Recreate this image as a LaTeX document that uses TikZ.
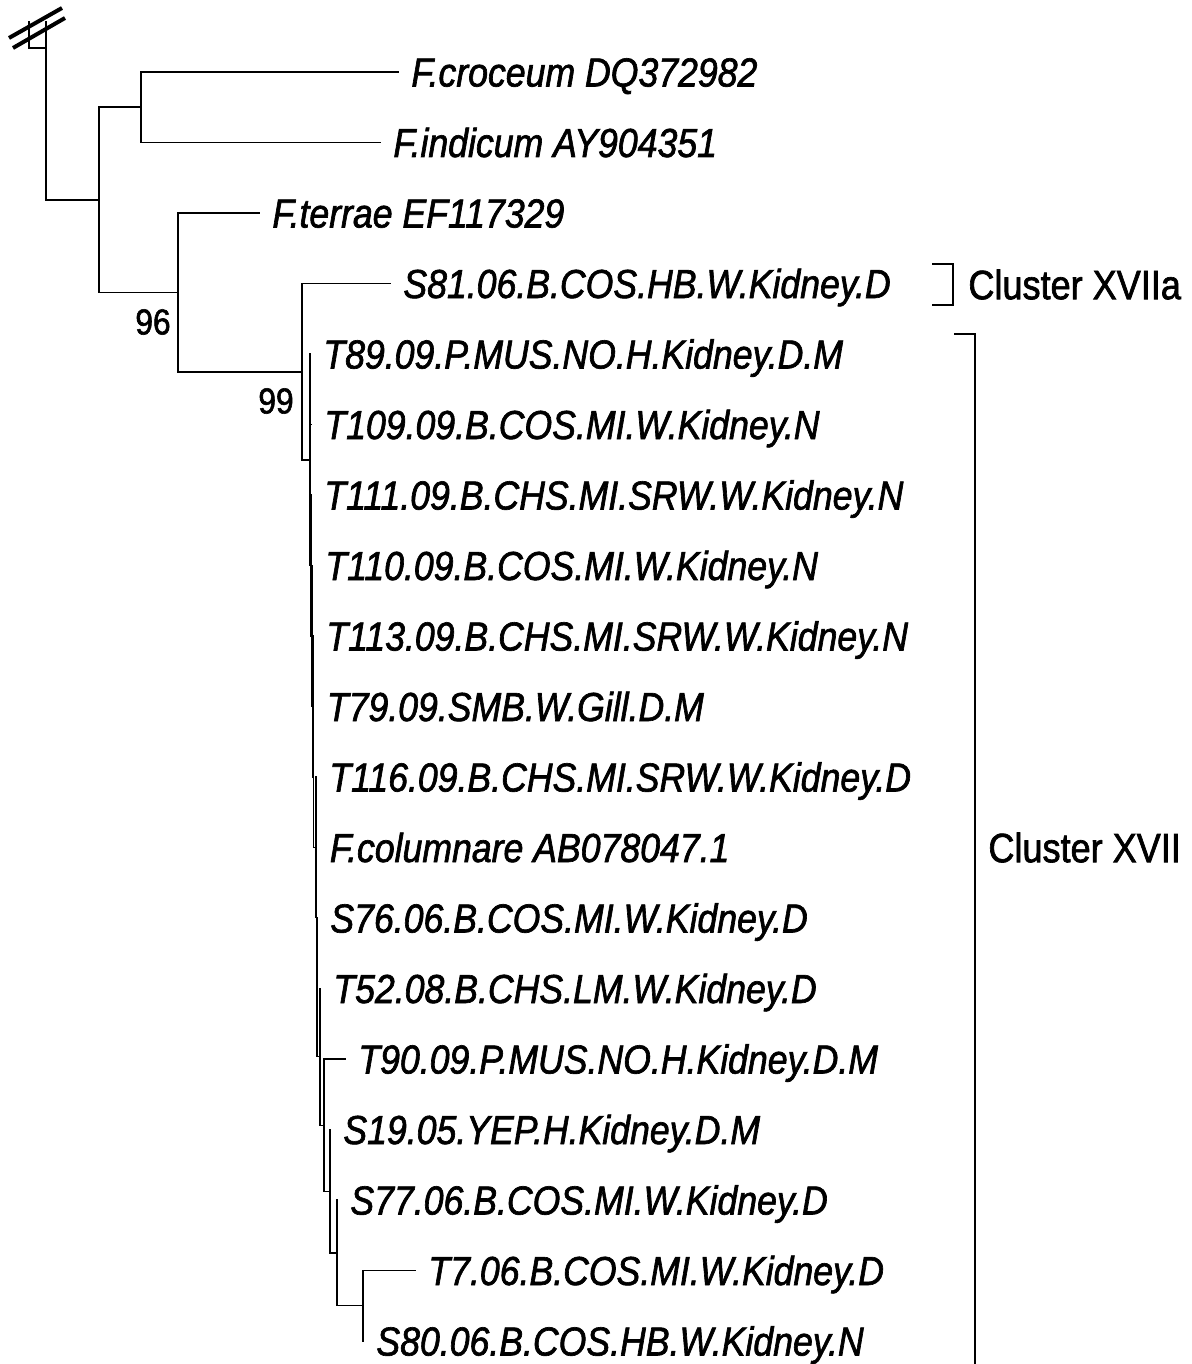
\documentclass[tikz,border=0pt]{standalone}
\usepackage{fontspec}
\setmainfont{Liberation Sans}[FakeStretch=0.88, FakeBold=1.6]
\usetikzlibrary{positioning, calc}

\begin{document}
\begin{tikzpicture}[x=0.5pt, y=-0.5pt,
        branch/.style={line width=0.6pt, line cap=rect},
        brk/.style={line width=2pt},
        bracket/.style={line width=0.8pt},
        taxon/.style={anchor=west, inner xsep=6.5pt, inner ysep=0pt,
            text height=14.5pt, text depth=0pt,
            font=\fontsize{20.25}{24}\selectfont\itshape},
        boot/.style={inner sep=0pt, font=\fontsize{18}{20}\selectfont},
        clade/.style={anchor=west, inner sep=0pt, text height=14.7pt, text depth=0pt,
            font=\fontsize{20.5}{24}\selectfont}]
    \useasboundingbox (0,0) rectangle (1192,1364);
    % leaves
    \foreach \n/\x/\y/\t in {croceum/398/72/F.croceum DQ372982,
            indicum/380/142.5/F.indicum AY904351,
            terrae/259/213/F.terrae EF117329,
            s81/390/283.5/S81.06.B.COS.HB.W.Kidney.D,
            t89/310/354/T89.09.P.MUS.NO.H.Kidney.D.M,
            t109/311/424.5/T109.09.B.COS.MI.W.Kidney.N,
            t111/311/495/T111.09.B.CHS.MI.SRW.W.Kidney.N,
            t110/312/565.5/T110.09.B.COS.MI.W.Kidney.N,
            t113/313/636/T113.09.B.CHS.MI.SRW.W.Kidney.N,
            t79/313.5/706.5/T79.09.SMB.W.Gill.D.M,
            t116/316/777/T116.09.B.CHS.MI.SRW.W.Kidney.D,
            fcol/316.5/847.5/F.columnare AB078047.1,
            s76/317/918/S76.06.B.COS.MI.W.Kidney.D,
            t52/320/988.5/T52.08.B.CHS.LM.W.Kidney.D,
            t90/345/1059/T90.09.P.MUS.NO.H.Kidney.D.M,
            s19/330/1129.5/S19.05.YEP.H.Kidney.D.M,
            s77/337/1200/S77.06.B.COS.MI.W.Kidney.D,
            t7/415/1270.5/T7.06.B.COS.MI.W.Kidney.D,
            s80/363/1341/S80.06.B.COS.HB.W.Kidney.N}
        \node[taxon] (\n) at (\x,\y) {\t};
    % inner nodes
    \coordinate (root) at (46,22);
    \coordinate (stub) at (29,22);
    \coordinate (stubend) at (29,48);
    \coordinate (nA) at (99,200);
    \coordinate (nB) at (141,107);
    \coordinate (nC) at (178,292.5);
    \coordinate (nD) at (302,372);
    \coordinate (nE) at (310,460);
    \coordinate (n6) at (311,565.5);
    \coordinate (n7) at (312,636);
    \coordinate (n8) at (313,706.4);
    \coordinate (n9) at (313.5,776.9);
    \coordinate (n10) at (316,847.2);
    \coordinate (n11) at (316.5,917.5);
    \coordinate (n12) at (317,987.4);
    \coordinate (n13) at (320,1056.8);
    \coordinate (n14) at (324,1125.1);
    \coordinate (n15) at (330,1191.2);
    \coordinate (n16) at (337,1252.9);
    \coordinate (n17) at (363,1305.75);
    % branches
    \draw[branch] (stub) |- (root |- stubend);
    \draw[branch] (nA) -| (root);
    \draw[branch] (croceum.west) -| (nB) |- (indicum.west);
    \draw[branch] (nB) -| (nA) |- (nC);
    \draw[branch] (terrae.west) -| (nC) |- (nD);
    \draw[branch] (s81.west) -| (nD) |- (nE);
    \draw[branch] (t89.west) |- (n6);
    \draw[branch] (nE |- t109.west) -- (t109.west);
    \foreach \a/\b in {t111/n7, t110/n8, t113/n9, t79/n10, t116/n11,
            fcol/n12, s76/n13, t52/n14}
        \draw[branch] (\a.west) |- (\b);
    \draw[branch] (t90.west) -| (n14) |- (n15);
    \draw[branch] (s19.west) |- (n16);
    \draw[branch] (s77.west) |- (n17);
    \draw[branch] (t7.west) -| (n17) |- (s80.west);
    % break marks
    \draw[brk] (9,38) -- (62,8);
    \draw[brk] (13,48) -- (65,18);
    % bootstrap
    \node[boot] (b96) at (153,322) {96};
    \node[boot] (b99) at (276,401) {99};
    % clusters
    \coordinate (xa1) at (932,264);
    \coordinate (xa2) at (932,305);
    \draw[bracket] (xa1) -| (953,284.5) |- (xa2);
    \node[clade] (cxa) at (968,284.5) {Cluster XVIIa};
    \coordinate (xb1) at (954,334);
    \draw[bracket] (xb1) -| (975,1366);
    \node[clade] (cxb) at (988,847.5) {Cluster XVII};
\end{tikzpicture}
\end{document}
